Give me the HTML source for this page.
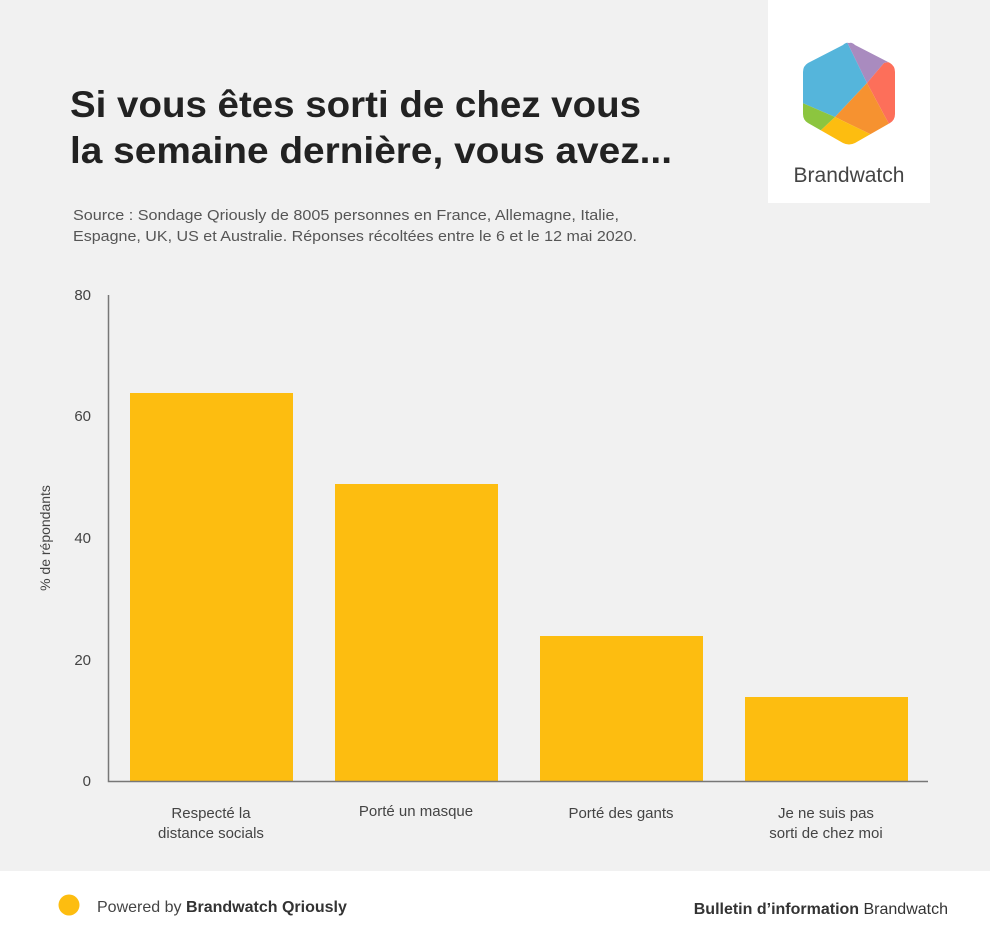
<!DOCTYPE html>
<html><head><meta charset="utf-8"><style>
body{margin:0;width:990px;height:945px;background:#f1f1f1;font-family:"Liberation Sans",sans-serif;position:relative;overflow:hidden}
</style></head><body>
<svg width="990" height="945" style="position:absolute;left:0;top:0" font-family="Liberation Sans, sans-serif">
<rect x="768" y="0" width="162" height="203" fill="#fff"/>
<defs><clipPath id="hx"><path d="M849,43 Q852,42 855,45 L890,63 Q895,66 895,72 L895,114 Q895,120 890,123 L855,143 Q849,146 843,143 L808,123 Q803,120 803,114 L803,72 Q803,66 808,63 L843,45 Q846,42 849,43Z"/></clipPath></defs>
<g clip-path="url(#hx)">
<polygon points="846,40 867,83 835,117 800,102 800,40" fill="#55b5db"/>
<polygon points="846,40 900,40 900,60 884,63 867,83" fill="#a98bbf"/>
<polygon points="884,63 900,60 900,125 889,124 867,83" fill="#fd6f5a"/>
<polygon points="867,83 889,124 872,135 835,117" fill="#f69230"/>
<polygon points="835,117 872,135 860,150 820,150 820,131" fill="#fdbd10"/>
<polygon points="800,102 835,117 820,131 800,131" fill="#8cc53f"/>
<polygon points="820,131 800,131 800,150 830,150" fill="#fdbd10"/>
</g>
<text x="849" y="182" text-anchor="middle" font-size="21" fill="#444">Brandwatch</text>
<text x="70" y="117" font-size="37" font-weight="bold" fill="#222" textLength="571" lengthAdjust="spacingAndGlyphs">Si vous êtes sorti de chez vous</text>
<text x="70" y="163" font-size="37" font-weight="bold" fill="#222" textLength="602" lengthAdjust="spacingAndGlyphs">la semaine dernière, vous avez...</text>
<text x="73" y="220" font-size="14.5" fill="#555" textLength="546" lengthAdjust="spacingAndGlyphs">Source : Sondage Qriously de 8005 personnes en France, Allemagne, Italie,</text>
<text x="73" y="241" font-size="14.5" fill="#555" textLength="564" lengthAdjust="spacingAndGlyphs">Espagne, UK, US et Australie. Réponses récoltées entre le 6 et le 12 mai 2020.</text>
<g font-size="15" fill="#444" text-anchor="end">
<text x="91" y="300">80</text><text x="91" y="421">60</text><text x="91" y="543">40</text><text x="91" y="665">20</text><text x="91" y="786">0</text>
</g>
<text transform="translate(50,538) rotate(-90)" text-anchor="middle" font-size="14" fill="#444">% de répondants</text>
<g fill="#fdbd10">
<rect x="130" y="393" width="163" height="388"/>
<rect x="335" y="484" width="163" height="297"/>
<rect x="540" y="636" width="163" height="145"/>
<rect x="745" y="697" width="163" height="84"/>
</g>
<path d="M108.5,295 V781.5 H928" fill="none" stroke="#777" stroke-width="1.5"/>
<g font-size="15" fill="#444" text-anchor="middle">
<text x="211" y="818">Respecté la</text><text x="211" y="838">distance socials</text>
<text x="416" y="816">Porté un masque</text>
<text x="621" y="818">Porté des gants</text>
<text x="826" y="818">Je ne suis pas</text><text x="826" y="838">sorti de chez moi</text>
</g>
<rect x="0" y="871" width="990" height="74" fill="#fff"/>
<circle cx="69" cy="905" r="10.5" fill="#fdbd10"/>
<text x="97" y="912" font-size="16" fill="#444">Powered by <tspan font-weight="bold" fill="#333">Brandwatch Qriously</tspan></text>
<text x="948" y="914" text-anchor="end" font-size="16" fill="#333"><tspan font-weight="bold">Bulletin d’information</tspan> Brandwatch</text>
</svg>
</body></html>
